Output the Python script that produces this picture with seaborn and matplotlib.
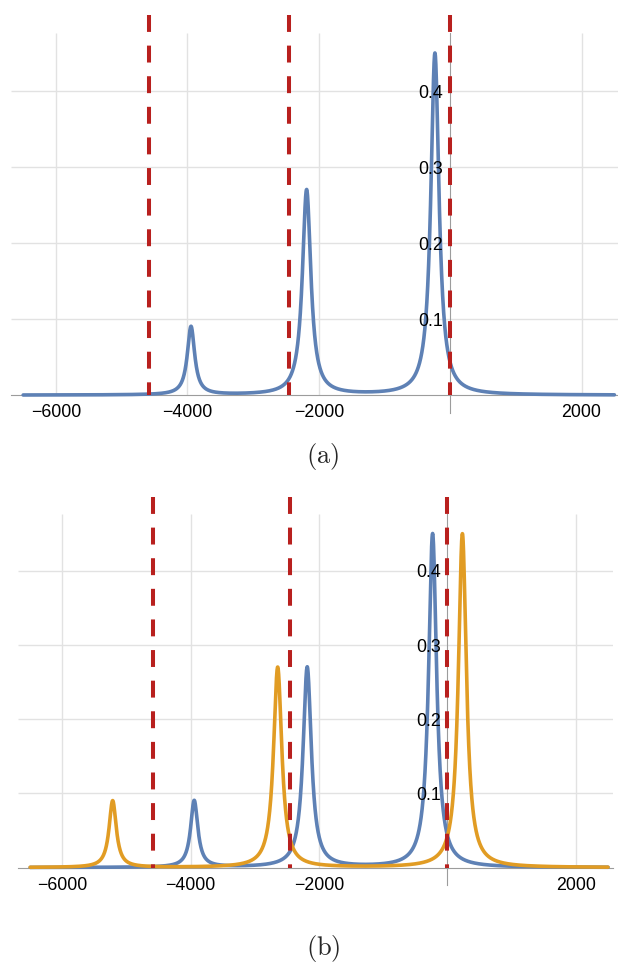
import numpy as np
import pandas as pd
import matplotlib
matplotlib.use("Agg")
import matplotlib.pyplot as plt
import seaborn as sns
from matplotlib.ticker import FixedLocator, MultipleLocator

# Spectral lines: centre position, peak height and half width of each Lorentzian
blue_centers = [-3945, -2185, -232]
blue_heights = [0.09, 0.27, 0.45]
blue_widths = [68, 78, 75]

orange_centers = [-5215, -2645, 232]
orange_heights = [0.09, 0.27, 0.45]
orange_widths = [68, 78, 75]

# Positions of the dashed reference lines
reference_lines = [-4590, -2460, 0]

x_ticks = [-6000, -4000, -2000, 0, 2000]
x_ticklabels = ["\u22126000", "\u22124000", "\u22122000", "", "2000"]
y_ticks = [0.1, 0.2, 0.3, 0.4]
y_ticklabels = ["0.1", "0.2", "0.3", "0.4"]

x_domain = (-6500, 2500)
captions = ["(a)", "(b)"]

BLUE = "#5E81B5"
ORANGE = "#E19C24"
RED = "#B8201E"
GRID = "#E2E2E2"
AXIS = "#9C9C9C"

sns.set_theme(style="white")
plt.rcParams["font.family"] = ["Liberation Sans", "DejaVu Sans"]
plt.rcParams["mathtext.fontset"] = "cm"


def spectrum(x, centers, heights, widths):
    y = np.zeros_like(x)
    for c, h, w in zip(centers, heights, widths):
        y += h / (1.0 + ((x - c) / w) ** 2)
    return y


xs = np.linspace(x_domain[0], x_domain[1], 4001)

XLIM = (-6685, 2570)
YLIM = (-0.0235, 0.4767)

fig = plt.figure(figsize=(6.18, 9.67), dpi=100)
ax_a = fig.add_axes([11 / 618, 1 - 413 / 967, 608 / 618, 380 / 967])
ax_b = fig.add_axes([18.3 / 618, 1 - 885 / 967, 594.2 / 618, 371 / 967])


def style_panel(ax):
    ax.set_xlim(*XLIM)
    ax.set_ylim(*YLIM)
    ax.set_facecolor("none")
    for side in ("top", "right"):
        ax.spines[side].set_visible(False)
    ax.spines["left"].set_position(("data", 0))
    ax.spines["bottom"].set_position(("data", 0))
    for side in ("left", "bottom"):
        ax.spines[side].set_color(AXIS)
        ax.spines[side].set_linewidth(0.8)
        ax.spines[side].set_zorder(1.5)

    # light grid at the major ticks
    ax.hlines(y_ticks, XLIM[0], XLIM[1], color=GRID, lw=1.0, zorder=0)
    ax.vlines([t for t in x_ticks if t != 0], 0, YLIM[1], color=GRID, lw=1.0, zorder=0)

    ax.xaxis.set_major_locator(FixedLocator(x_ticks))
    ax.set_xticklabels(x_ticklabels)
    ax.xaxis.set_minor_locator(MultipleLocator(500))
    ax.yaxis.set_major_locator(FixedLocator(y_ticks))
    ax.set_yticklabels(y_ticklabels)
    ax.yaxis.set_minor_locator(MultipleLocator(0.02))

    ax.tick_params(axis="x", which="major", direction="in", length=4, width=0.8,
                   color=AXIS, labelsize=12.8, pad=6.5, labelcolor="black")
    ax.tick_params(axis="x", which="minor", direction="in", length=2.5, width=0.6, color=AXIS)
    ax.tick_params(axis="y", which="major", direction="in", length=4, width=0.8,
                   color=AXIS, labelsize=12.8, pad=5, labelcolor="black")
    ax.tick_params(axis="y", which="minor", direction="in", length=2.5, width=0.6, color=AXIS)
    ax.xaxis.set_zorder(1.5)
    ax.yaxis.set_zorder(5)
    ax.set_xlabel("")
    ax.set_ylabel("")

    for xr in reference_lines:
        ax.plot([xr, xr], [0.5, 0.0], color=RED, lw=2.9, dashes=(4.2, 3.4),
                dash_capstyle="butt", clip_on=False, zorder=6)


# Panel (a): single spectrum
df_a = pd.DataFrame({
    "x": xs,
    "y": spectrum(xs, blue_centers, blue_heights, blue_widths),
    "series": "blue",
})
sns.lineplot(data=df_a, x="x", y="y", hue="series", palette={"blue": BLUE},
             legend=False, lw=2.6, estimator=None, sort=False, ax=ax_a, zorder=3)
style_panel(ax_a)

# Panel (b): original and shifted spectra
df_b = pd.concat([
    pd.DataFrame({"x": xs, "y": spectrum(xs, blue_centers, blue_heights, blue_widths),
                  "series": "blue"}),
    pd.DataFrame({"x": xs, "y": spectrum(xs, orange_centers, orange_heights, orange_widths),
                  "series": "orange"}),
], ignore_index=True)
sns.lineplot(data=df_b, x="x", y="y", hue="series",
             palette={"blue": BLUE, "orange": ORANGE}, hue_order=["blue", "orange"],
             legend=False, lw=2.6, estimator=None, sort=False, ax=ax_b, zorder=3)
style_panel(ax_b)

fig.text(323 / 618, 1 - 457 / 967, r"$\mathrm{" + captions[0] + "}$",
         ha="center", va="center", fontsize=19)
fig.text(323 / 618, 1 - 948 / 967, r"$\mathrm{" + captions[1] + "}$",
         ha="center", va="center", fontsize=19)

fig.savefig("out.png", dpi=100, facecolor="white")
